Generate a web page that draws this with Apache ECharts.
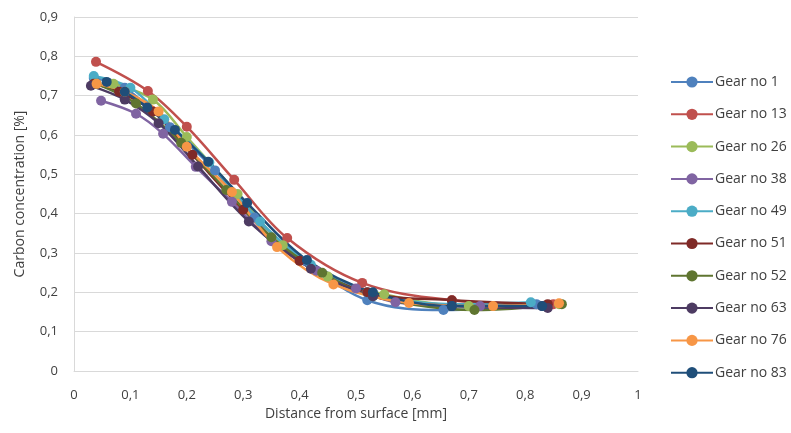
<!DOCTYPE html>
<html>
<head>
<meta charset="utf-8">
<script src="https://cdn.jsdelivr.net/npm/echarts@6/dist/echarts.min.js"></script>
<style>
html,body{margin:0;padding:0;background:#fff;}
#chart{width:791px;height:433px;}
</style>
</head>
<body>
<div id="chart"></div>
<script>
var seriesNames = ["Gear no 1","Gear no 13","Gear no 26","Gear no 38","Gear no 49","Gear no 51","Gear no 52","Gear no 63","Gear no 76","Gear no 83"];
var xTicks = [0,0.1,0.2,0.3,0.4,0.5,0.6,0.7,0.8,0.9,1];
var yTicks = [0,0.1,0.2,0.3,0.4,0.5,0.6,0.7,0.8,0.9];

var gear1  = [[0.035,0.745],[0.09,0.72],[0.17,0.62],[0.25,0.51],[0.32,0.39],[0.41,0.28],[0.52,0.18],[0.655,0.155],[0.82,0.17]];
var gear13 = [[0.039,0.786],[0.131,0.712],[0.20,0.621],[0.284,0.486],[0.378,0.338],[0.511,0.224],[0.67,0.18],[0.85,0.17]];
var gear26 = [[0.07,0.73],[0.14,0.69],[0.20,0.595],[0.29,0.45],[0.37,0.32],[0.45,0.24],[0.55,0.195],[0.70,0.165],[0.86,0.17]];
var gear38 = [[0.048,0.687],[0.11,0.654],[0.158,0.603],[0.216,0.519],[0.28,0.43],[0.35,0.33],[0.43,0.255],[0.50,0.21],[0.57,0.175],[0.72,0.165],[0.83,0.165]];
var gear49 = [[0.035,0.75],[0.10,0.72],[0.16,0.64],[0.24,0.53],[0.33,0.38],[0.42,0.27],[0.52,0.20],[0.67,0.17],[0.81,0.175]];
var gear51 = [[0.035,0.73],[0.08,0.71],[0.14,0.66],[0.21,0.55],[0.30,0.41],[0.40,0.28],[0.52,0.20],[0.67,0.18],[0.84,0.17]];
var gear52 = [[0.04,0.73],[0.11,0.68],[0.19,0.58],[0.27,0.46],[0.35,0.34],[0.44,0.25],[0.53,0.19],[0.71,0.155],[0.865,0.17]];
var gear63 = [[0.03,0.725],[0.09,0.69],[0.15,0.63],[0.22,0.52],[0.31,0.38],[0.42,0.26],[0.53,0.19],[0.67,0.165],[0.84,0.16]];
var gear76 = [[0.04,0.73],[0.09,0.71],[0.15,0.66],[0.20,0.57],[0.28,0.455],[0.36,0.315],[0.46,0.22],[0.594,0.173],[0.743,0.165],[0.86,0.172]];
var gear83 = [[0.058,0.735],[0.09,0.71],[0.13,0.67],[0.179,0.613],[0.238,0.532],[0.307,0.427],[0.413,0.282],[0.53,0.20],[0.67,0.165],[0.83,0.165]];

var seriesData = [gear1,gear13,gear26,gear38,gear49,gear51,gear52,gear63,gear76,gear83];
var colors = ["#4F81BD","#C0504D","#9BBB59","#8064A2","#4BACC6","#7F2A27","#5F7530","#4D3B62","#F79646","#1F4E79"];

function fmt(v){ return String(Math.round(v*10)/10).replace('.', ','); }

var chart = echarts.init(document.getElementById('chart'), null, {renderer:'canvas'});
var font = "'Open Sans', 'Liberation Sans', sans-serif";
var option = {
  backgroundColor: '#ffffff',
  animation: false,
  color: colors,
  textStyle: {fontFamily: font},
  grid: {left: 74, right: 153, top: 17, bottom: 62},
  legend: {
    orient: 'vertical',
    left: 665,
    top: 70,
    itemWidth: 42,
    itemHeight: 14,
    itemGap: 18.3,
    textStyle: {fontSize: 14, color: '#404040', fontFamily: font, padding: [0,0,0,-3]},
    data: seriesNames.map(function(n){ return {name:n}; })
  },
  xAxis: {
    type: 'value',
    min: 0, max: 1, interval: 0.1,
    name: 'Distance from surface [mm]',
    nameLocation: 'middle',
    nameGap: 33,
    nameTextStyle: {fontSize: 14, color: '#404040'},
    axisLine: {show: true, lineStyle: {color: '#D9D9D9', width: 1}},
    axisTick: {show: false},
    axisLabel: {margin: 18, fontSize: 13, color: '#404040', formatter: function(v){ return xTicks.indexOf(Math.round(v*10)/10) >= 0 ? fmt(v) : ''; }},
    splitLine: {show: false}
  },
  yAxis: {
    type: 'value',
    min: 0, max: 0.9, interval: 0.1,
    name: 'Carbon concentration [%]',
    nameLocation: 'middle',
    nameGap: 47,
    nameTextStyle: {fontSize: 14, color: '#404040'},
    axisLine: {show: true, lineStyle: {color: '#D9D9D9', width: 1}},
    axisTick: {show: false},
    axisLabel: {margin: 16, fontSize: 13, color: '#404040', formatter: function(v){ return yTicks.indexOf(Math.round(v*10)/10) >= 0 ? fmt(v) : ''; }},
    splitLine: {show: true, lineStyle: {color: '#D9D9D9', width: 1}}
  },
  series: seriesNames.map(function(n, i){
    return {
      name: n,
      type: 'line',
      data: seriesData[i],
      smooth: 0.35,
      symbol: 'circle',
      symbolSize: 10,
      showSymbol: true,
      lineStyle: {width: 2.5, color: colors[i]},
      itemStyle: {color: colors[i]}
    };
  })
};
chart.setOption(option);
</script>
</body>
</html>
